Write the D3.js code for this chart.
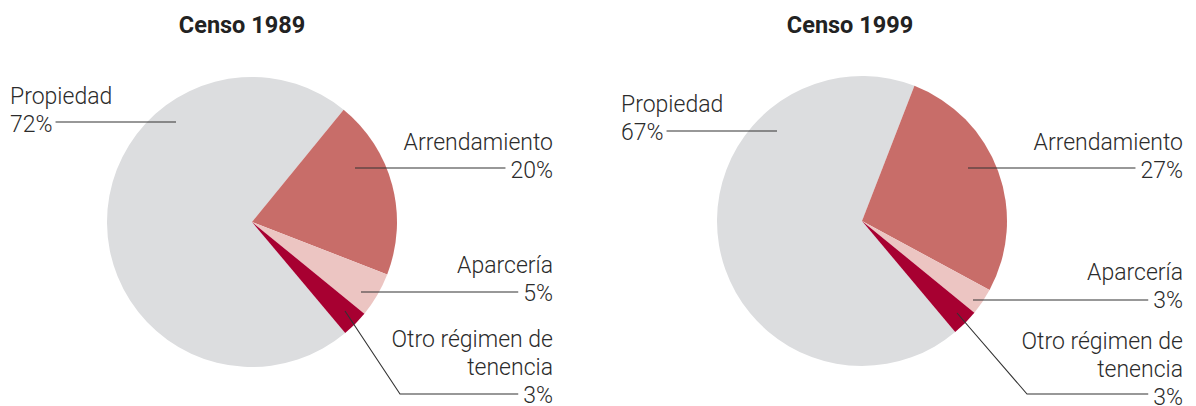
<!DOCTYPE html>
<html>
<head>
<meta charset="utf-8">
<script src="https://cdn.jsdelivr.net/npm/d3@7"></script>
<style>
  body { margin: 0; background: #fff; }
  .title { font-family: Roboto, sans-serif; font-weight: 700; font-size: 23.5px; fill: #222; }
  .label { font-family: Roboto, sans-serif; font-weight: 300; font-size: 23px; fill: #2b2b2b; }
  .leader { fill: none; stroke: #333; stroke-width: 1.1; }
</style>
</head>
<body>
<svg id="chart"></svg>
<script>
// Categories and values (percent)
let categories = ['Propiedad', 'Arrendamiento', 'Aparcería', 'Otro régimen de tenencia'];
let labelLines = [['Propiedad'], ['Arrendamiento'], ['Aparcería'], ['Otro régimen de', 'tenencia']];
let values1989 = [72, 20, 5, 3];
let values1999 = [67, 27, 3, 3];
let titles = ['Censo 1989', 'Censo 1999'];

let svgWidth = 1196;
let svgHeight = 406;

let colorScale = d3.scaleOrdinal()
  .domain(categories)
  .range(['#dcdddf', '#c86d69', '#ecc5c2', '#a70031']);

// Layout of each pie and its labels (text anchor x, first baseline, leader points)
let charts = [
  {
    title: titles[0], values: values1989, cx: 252, cy: 222, r: 145, titleX: 242,
    labels: [
      { x: 10, anchor: 'start', y: 104, pts: [[176, 122]], lineY: 122 },
      { x: 553, anchor: 'end', y: 150, pts: [[355, 168]], lineY: 168 },
      { x: 553, anchor: 'end', y: 273, pts: [[361, 292]], lineY: 292 },
      { x: 553, anchor: 'end', y: 347, pts: [[345, 311], [400, 394]], lineY: 394 }
    ]
  },
  {
    title: titles[1], values: values1999, cx: 862, cy: 221, r: 145, titleX: 850,
    labels: [
      { x: 621, anchor: 'start', y: 112, pts: [[777, 131]], lineY: 131 },
      { x: 1183, anchor: 'end', y: 150, pts: [[968, 168]], lineY: 168 },
      { x: 1183, anchor: 'end', y: 280, pts: [[973, 300]], lineY: 300 },
      { x: 1183, anchor: 'end', y: 349, pts: [[957, 313], [1027, 394]], lineY: 394 }
    ]
  }
];

let lineHeight = 28;
let startAngle = 140 * Math.PI / 180;

let pie = d3.pie()
  .sort(null)
  .startAngle(startAngle)
  .endAngle(startAngle + 2 * Math.PI);

let svg = d3.select('#chart')
  .attr('width', svgWidth)
  .attr('height', svgHeight);

charts.forEach(c => {
  let arc = d3.arc().innerRadius(0).outerRadius(c.r);

  svg.append('text')
    .attr('class', 'title')
    .attr('x', c.titleX)
    .attr('y', 33)
    .attr('text-anchor', 'middle')
    .text(c.title);

  let data = pie(c.values)
    .map((d, i) => Object.assign(d, { cat: categories[i] }));

  svg.append('g')
    .attr('transform', 'translate(' + c.cx + ',' + c.cy + ')')
    .selectAll('path')
    .data(data)
    .enter()
    .append('path')
    .attr('d', arc)
    .attr('fill', d => colorScale(d.cat));

  // Labels with leader lines
  c.labels.forEach((l, i) => {
    let lines = labelLines[i].concat([c.values[i] + '%']);
    let g = svg.append('g');
    let texts = g.selectAll('text')
      .data(lines)
      .enter()
      .append('text')
      .attr('class', 'label')
      .attr('x', l.x)
      .attr('y', (d, j) => l.y + j * lineHeight)
      .attr('text-anchor', l.anchor)
      .text(d => d);

    // the leader ends next to the value line
    let last = texts.nodes()[lines.length - 1];
    let w = last.getComputedTextLength();
    let endX = l.anchor === 'end' ? l.x - w - 5 : l.x + w + 3;
    let pts = l.pts.concat([[endX, l.lineY]]);

    g.append('path')
      .attr('class', 'leader')
      .attr('d', d3.line()(pts));
  });
});
</script>
</body>
</html>
